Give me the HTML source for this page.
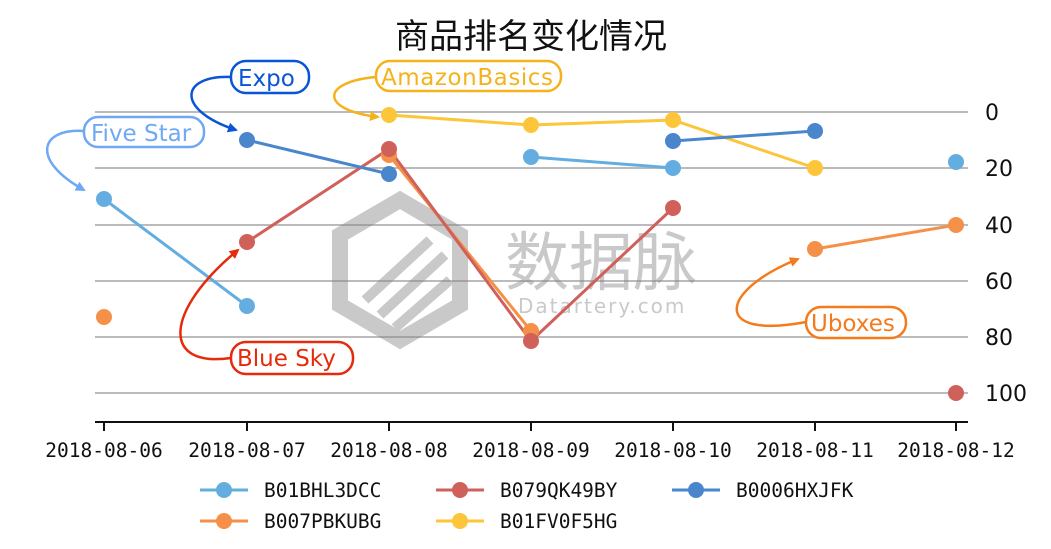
<!DOCTYPE html>
<html><head><meta charset="utf-8"><style>
body{margin:0;background:#fff;}
svg{display:block;}
.m{font-family:"DejaVu Sans Mono","Liberation Mono",monospace;font-size:19.5px;fill:#111;}
.s{font-family:"DejaVu Sans","Liberation Sans",sans-serif;}
</style></head><body>
<svg width="1051" height="549" viewBox="0 0 1051 549" xmlns="http://www.w3.org/2000/svg">
<defs>
<marker id="a1" markerWidth="10" markerHeight="10" refX="8" refY="5" orient="auto" markerUnits="userSpaceOnUse"><path d="M0,0 L10,5 L0,10 z" fill="#6fa8f5"/></marker>
<marker id="a2" markerWidth="10" markerHeight="10" refX="8" refY="5" orient="auto" markerUnits="userSpaceOnUse"><path d="M0,0 L10,5 L0,10 z" fill="#0a55d6"/></marker>
<marker id="a3" markerWidth="10" markerHeight="10" refX="8" refY="5" orient="auto" markerUnits="userSpaceOnUse"><path d="M0,0 L10,5 L0,10 z" fill="#f5b21c"/></marker>
<marker id="a4" markerWidth="10" markerHeight="10" refX="8" refY="5" orient="auto" markerUnits="userSpaceOnUse"><path d="M0,0 L10,5 L0,10 z" fill="#e52b0c"/></marker>
<marker id="a5" markerWidth="10" markerHeight="10" refX="8" refY="5" orient="auto" markerUnits="userSpaceOnUse"><path d="M0,0 L10,5 L0,10 z" fill="#f57a1c"/></marker>
</defs>
<text x="531" y="48" text-anchor="middle" font-size="34" font-family="'Noto Sans CJK SC',sans-serif" fill="#111">商品排名变化情况</text>
<g stroke="#bbb" stroke-width="2">
<line x1="95" x2="968" y1="112" y2="112"/><line x1="95" x2="968" y1="168" y2="168"/>
<line x1="95" x2="968" y1="225" y2="225"/><line x1="95" x2="968" y1="281" y2="281"/>
<line x1="95" x2="968" y1="337" y2="337"/><line x1="95" x2="968" y1="393" y2="393"/>
</g>
<g class="s" font-size="22" fill="#111">
<text x="985" y="120">0</text><text x="985" y="176">20</text><text x="985" y="233">40</text>
<text x="985" y="289">60</text><text x="985" y="345">80</text><text x="985" y="401">100</text>
</g>
<g opacity="0.45">
<path d="M400,200 L460,235 L460,305 L400,340 L340,305 L340,235 Z" fill="none" stroke="#888" stroke-width="16"/>
<path d="M365,300 L430,240 M380,315 L445,255 M395,328 L450,280" stroke="#888" stroke-width="10"/>
<text x="505" y="285" font-size="64" font-family="'Noto Sans CJK SC',sans-serif" fill="#888">数据脉</text>
<text x="518" y="313" font-size="20" class="s" fill="#888" letter-spacing="2">Datartery.com</text>
</g>
<line x1="95" x2="968" y1="422" y2="422" stroke="#111" stroke-width="2"/>
<g stroke="#111" stroke-width="2">
<line x1="104" x2="104" y1="422" y2="431"/><line x1="247" x2="247" y1="422" y2="431"/>
<line x1="389" x2="389" y1="422" y2="431"/><line x1="531" x2="531" y1="422" y2="431"/>
<line x1="673" x2="673" y1="422" y2="431"/><line x1="815" x2="815" y1="422" y2="431"/>
<line x1="956" x2="956" y1="422" y2="431"/>
</g>
<g class="m" text-anchor="middle">
<text x="104" y="457">2018-08-06</text><text x="247" y="457">2018-08-07</text>
<text x="389" y="457">2018-08-08</text><text x="531" y="457">2018-08-09</text>
<text x="673" y="457">2018-08-10</text><text x="815" y="457">2018-08-11</text>
<text x="956" y="457">2018-08-12</text>
</g>
<g stroke-width="3" fill="none">
<polyline points="104,199 247,306" stroke="#64ade0"/>
<polyline points="531,157 673,168" stroke="#64ade0"/>
<polyline points="389,155 531,331" stroke="#f59048"/>
<polyline points="815,249 956,225" stroke="#f59048"/>
<polyline points="247,242 389,149 531,341 673,208" stroke="#d0605a"/>
<polyline points="389,115 531,125 673,120 815,168" stroke="#fcc53a"/>
<polyline points="247,140 389,174" stroke="#4a86cc"/>
<polyline points="673,141 815,131" stroke="#4a86cc"/>
</g>
<g>
<g fill="#64ade0"><circle cx="104" cy="199" r="8"/><circle cx="247" cy="306" r="8"/><circle cx="531" cy="157" r="8"/><circle cx="673" cy="168" r="8"/><circle cx="956" cy="162" r="8"/></g>
<g fill="#f59048"><circle cx="104" cy="317" r="8"/><circle cx="389" cy="155" r="8"/><circle cx="531" cy="331" r="8"/><circle cx="815" cy="249" r="8"/><circle cx="956" cy="225" r="8"/></g>
<g fill="#fcc53a"><circle cx="389" cy="115" r="8"/><circle cx="531" cy="125" r="8"/><circle cx="673" cy="120" r="8"/><circle cx="815" cy="168" r="8"/></g>
<g fill="#d0605a"><circle cx="247" cy="242" r="8"/><circle cx="389" cy="149" r="8"/><circle cx="531" cy="341" r="8"/><circle cx="673" cy="208" r="8"/><circle cx="956" cy="393" r="8"/></g>
<g fill="#4a86cc"><circle cx="247" cy="140" r="8"/><circle cx="389" cy="174" r="8"/><circle cx="673" cy="141" r="8"/><circle cx="815" cy="131" r="8"/></g>
</g>
<g fill="none" stroke-width="2.5">
<path d="M84,131 C40,128 30,160 84,190" stroke="#6fa8f5" marker-end="url(#a1)"/>
<rect x="84" y="117" width="120" height="30" rx="14" fill="#fff" stroke="#6fa8f5"/>
<path d="M231,77 C180,75 175,110 236,130" stroke="#0a55d6" marker-end="url(#a2)"/>
<rect x="231" y="61" width="78" height="32" rx="15" fill="#fff" stroke="#0a55d6"/>
<path d="M376,77 C320,82 320,110 378,117" stroke="#f5b21c" marker-end="url(#a3)"/>
<rect x="376" y="61" width="185" height="30" rx="14" fill="#fff" stroke="#f5b21c"/>
<path d="M231,358 C160,368 165,310 238,250" stroke="#e52b0c" marker-end="url(#a4)"/>
<rect x="231" y="342" width="122" height="32" rx="15" fill="#fff" stroke="#e52b0c"/>
<path d="M806,322 C710,340 720,290 798,259" stroke="#f57a1c" marker-end="url(#a5)"/>
<rect x="806" y="307" width="100" height="31" rx="15" fill="#fff" stroke="#f57a1c"/>
</g>
<g class="s" font-size="23">
<text x="91" y="141" fill="#6fa8f5">Five Star</text>
<text x="238" y="86" fill="#0a55d6">Expo</text>
<text x="381" y="85" fill="#f5b21c" textLength="172">AmazonBasics</text>
<text x="237" y="366" fill="#e52b0c">Blue Sky</text>
<text x="811" y="331" fill="#f57a1c">Uboxes</text>
</g>
<g stroke-width="3">
<line x1="200" x2="248" y1="490" y2="490" stroke="#64ade0"/><circle cx="224" cy="490" r="8" fill="#64ade0"/>
<line x1="436" x2="484" y1="490" y2="490" stroke="#d0605a"/><circle cx="460" cy="490" r="8" fill="#d0605a"/>
<line x1="672" x2="720" y1="490" y2="490" stroke="#4a86cc"/><circle cx="696" cy="490" r="8" fill="#4a86cc"/>
<line x1="200" x2="248" y1="521" y2="521" stroke="#f59048"/><circle cx="224" cy="521" r="8" fill="#f59048"/>
<line x1="436" x2="484" y1="521" y2="521" stroke="#fcc53a"/><circle cx="460" cy="521" r="8" fill="#fcc53a"/>
</g>
<g class="m">
<text x="264" y="497">B01BHL3DCC</text><text x="500" y="497">B079QK49BY</text><text x="736" y="497">B0006HXJFK</text>
<text x="264" y="528">B007PBKUBG</text><text x="500" y="528">B01FV0F5HG</text>
</g>
</svg>
</body></html>
